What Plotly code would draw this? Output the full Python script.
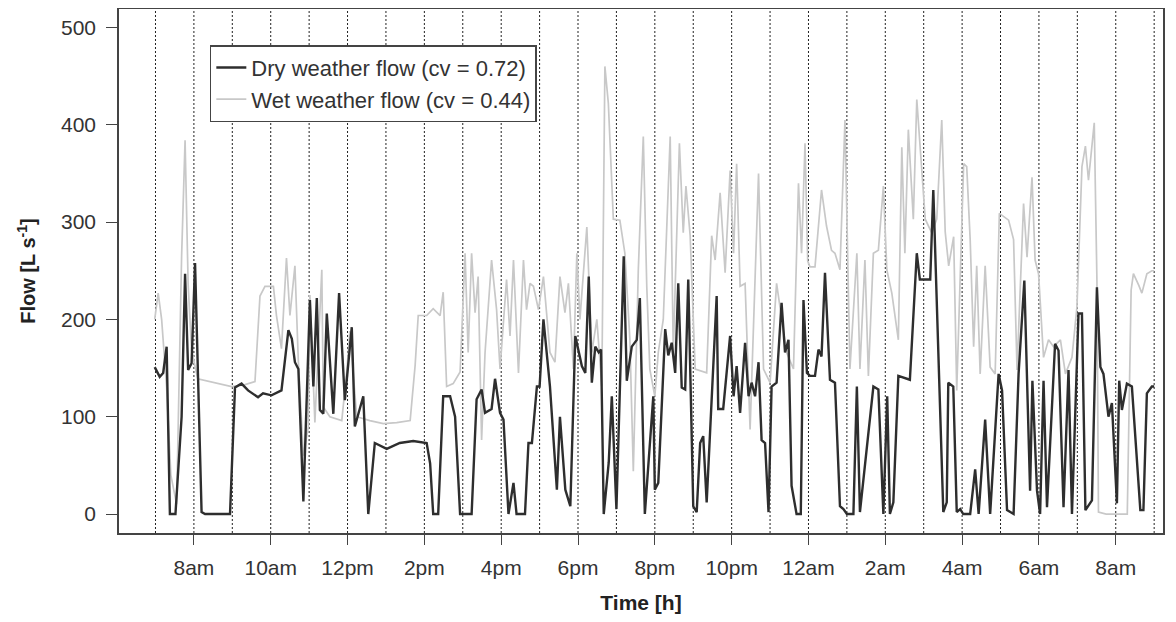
import plotly.graph_objects as go

# hours since midnight of day 1 (7 = 7am, 32 = 8am next day)
dry_time = [6.98, 7.11, 7.2, 7.29, 7.375, 7.52, 7.68, 7.77, 7.85, 7.94, 8.03, 8.2, 8.29, 8.94,
            9.07, 9.24, 9.41, 9.67, 9.8, 10.02, 10.28, 10.46, 10.55, 10.63, 10.72, 10.85,
            11.02, 11.11, 11.2, 11.28, 11.37, 11.46, 11.63, 11.78, 11.93, 12.11, 12.19, 12.41, 12.54, 12.71,
            13.02, 13.36, 13.71, 14.06, 14.15, 14.23, 14.36, 14.49, 14.67, 14.8, 14.93,
            15.23, 15.36, 15.49, 15.58, 15.75, 15.84, 15.97, 16.06, 16.19, 16.32, 16.4, 16.62, 16.71, 16.8, 16.93,
            17.0, 17.1, 17.27, 17.45, 17.53, 17.67, 17.8, 17.93, 18.1, 18.19, 18.28, 18.36, 18.45, 18.54, 18.6, 18.67, 18.8, 18.88,
            19.0, 19.19, 19.27, 19.4, 19.53, 19.61, 19.74, 19.96, 20.0, 20.09, 20.27, 20.35, 20.44, 20.53, 20.61, 20.7, 20.79, 20.87,
            21.0, 21.09, 21.18, 21.26, 21.35, 21.61, 21.65, 21.78, 21.96, 22.05, 22.13, 22.22, 22.35, 22.44, 22.52, 22.61, 22.7, 22.78, 22.87, 22.96,
            23.04, 23.17, 23.3, 23.39, 23.48, 23.56, 23.69, 23.8, 23.87, 23.96, 24.04, 24.17, 24.26, 24.34, 24.43, 24.56, 24.69, 24.82, 24.91,
            25.0, 25.17, 25.26, 25.34, 25.5, 25.69, 25.82, 25.95, 26.05, 26.12, 26.21, 26.34, 26.64, 26.82, 26.9,
            27.17, 27.25, 27.51, 27.6, 27.64, 27.77, 27.86, 27.95, 28.03, 28.21, 28.34, 28.43, 28.6, 28.73, 28.95,
            29.04, 29.17, 29.34, 29.47, 29.62, 29.77, 29.83, 29.95, 30.03, 30.12, 30.21, 30.42, 30.51, 30.64, 30.77, 30.86,
            31.03, 31.12, 31.21, 31.38, 31.51, 31.6, 31.68, 31.81, 31.9, 32.03, 32.09, 32.16, 32.29, 32.42, 32.64, 32.72, 32.81, 32.94, 33.0]
dry_flow = [151, 141, 145, 172, 0, 0, 100, 247, 148, 155, 258, 2, 0, 0,
            130, 134, 127, 120, 124, 122, 127, 189, 180, 156, 149, 13,
            220, 131, 222, 107, 103, 206, 103, 227, 117, 192, 90, 121, 0, 73,
            67, 73, 75, 73, 52, 0, 0, 121, 121, 100, 0,
            0, 118, 128, 104, 108, 139, 104, 97, 0, 32, 0, 0, 73, 73, 131,
            131, 200, 131, 25, 100, 25, 8, 183, 152, 145, 244, 135, 172, 166, 169, 0, 53, 121,
            5, 265, 137, 172, 179, 222, 0, 121, 25, 32, 190, 163, 176, 145, 237, 130, 128, 241,
            8, 2, 73, 80, 12, 224, 108, 108, 183, 121, 152, 104, 176, 121, 135, 121, 156, 76, 73, 2,
            131, 135, 217, 166, 179, 29, 0, 0, 220, 145, 142, 142, 169, 162, 248, 138, 135, 8, 5,
            0, 0, 131, 2, 60, 131, 128, 0, 121, 0, 12, 142, 138, 268, 241,
            241, 333, 2, 12, 135, 131, 2, 5, 0, 0, 46, 0, 97, 0, 144,
            127, 4, 0, 144, 240, 24, 137, 24, 0, 137, 7, 175, 168, 7, 148, 0,
            206, 206, 4, 14, 233, 151, 144, 100, 114, 11, 137, 107, 134, 131, 4, 4, 124, 131, 131]

wet_time = [6.98, 7.07, 7.16, 7.29, 7.4, 7.55, 7.68, 7.77, 7.85, 7.94, 8.1, 8.46, 8.81,
            8.98, 9.33, 9.59, 9.72, 9.85, 10.07, 10.15, 10.28, 10.41, 10.5, 10.63, 10.72, 10.85, 10.98,
            11.02, 11.15, 11.33, 11.37, 11.54, 11.85, 11.98, 12.06, 12.24, 12.58, 12.93,
            13.28, 13.63, 13.76, 13.84, 14.06, 14.23, 14.41, 14.49, 14.58, 14.75, 14.93,
            15.06, 15.14, 15.23, 15.32, 15.4, 15.49, 15.58, 15.75, 15.88, 15.97, 16.14, 16.23, 16.32, 16.45, 16.58, 16.66, 16.75, 16.84, 16.97,
            17.1, 17.27, 17.4, 17.53, 17.66, 17.75, 17.88, 17.97, 18.05, 18.23, 18.36, 18.49, 18.62, 18.7, 18.79, 18.92,
            19.09, 19.22, 19.35, 19.44, 19.57, 19.7, 19.79, 19.87, 20.0, 20.09, 20.22, 20.4, 20.48, 20.64, 20.74, 20.81, 20.92,
            21.05, 21.35, 21.48, 21.57, 21.7, 21.83, 21.96, 22.05, 22.13, 22.22, 22.35, 22.48, 22.7, 22.83,
            23.0, 23.17, 23.3, 23.43, 23.61, 23.74, 23.82, 23.91, 23.98, 24.04, 24.17, 24.34, 24.47, 24.6, 24.69, 24.82, 24.95,
            25.08, 25.26, 25.34, 25.47, 25.56, 25.69, 25.82, 25.95, 26.04, 26.17, 26.34, 26.43, 26.51, 26.6, 26.73, 26.82, 26.91,
            27.04, 27.21, 27.34, 27.47, 27.56, 27.65, 27.78, 27.86, 28.04, 28.12, 28.21, 28.3, 28.38, 28.47, 28.6, 28.73, 28.86, 28.97,
            29.21, 29.34, 29.43, 29.6, 29.69, 29.82, 29.9, 29.99, 30.12, 30.25, 30.38, 30.56, 30.69, 30.86, 30.99,
            31.12, 31.21, 31.29, 31.44, 31.51, 31.55, 31.75, 32.3, 32.4, 32.46, 32.6, 32.68, 32.81, 32.94, 33.0]
wet_flow = [200, 227, 200, 130, 40, 10, 265, 384, 236, 168, 139, 136, 133,
            131, 133, 136, 224, 234, 234, 204, 170, 263, 204, 255, 156, 60, 90,
            225, 94, 251, 110, 100, 96, 146, 188, 100, 96, 93,
            94, 96, 153, 204, 204, 211, 204, 228, 131, 134, 146,
            268, 166, 268, 207, 244, 76, 166, 261, 210, 149, 241, 183, 261, 145, 261, 210, 237, 234, 210,
            244, 166, 156, 244, 207, 237, 149, 268, 200, 295, 166, 200, 131, 460, 422, 303,
            302, 268, 180, 44, 251, 388, 234, 149, 121, 166, 200, 388, 166, 381, 289, 337, 286,
            149, 145, 286, 261, 330, 248, 353, 268, 360, 234, 237, 87, 350, 149,
            135, 237, 200, 166, 149, 340, 268, 381, 260, 254, 254, 333, 296, 271, 268, 251, 405,
            149, 268, 149, 261, 142, 268, 271, 337, 251, 227, 179, 377, 268, 395, 303, 426, 371,
            303, 289, 303, 405, 290, 255, 285, 127, 360, 357, 282, 172, 255, 144, 255, 151, 144, 309,
            302, 282, 148, 319, 264, 346, 261, 247, 161, 179, 172, 179, 144, 161, 213,
            357, 378, 343, 402, 240, 2, 0, 0, 230, 247, 235, 227, 247, 250, 250]

assert len(dry_time) == len(dry_flow), (len(dry_time), len(dry_flow))
assert len(wet_time) == len(wet_flow), (len(wet_time), len(wet_flow))

hour_lines = list(range(7, 34))
tick_vals = [8, 10, 12, 14, 16, 18, 20, 22, 24, 26, 28, 30, 32]
tick_text = ["8am", "10am", "12pm", "2pm", "4pm", "6pm", "8pm", "10pm", "12am", "2am", "4am", "6am", "8am"]

fig = go.Figure()

fig.add_trace(go.Scatter(x=wet_time, y=wet_flow, mode="lines", name="Wet weather flow (cv = 0.44)",
                         line=dict(color="#c8c8c8", width=1.7)))
fig.add_trace(go.Scatter(x=dry_time, y=dry_flow, mode="lines", name="Dry weather flow (cv = 0.72)",
                         line=dict(color="#2e2e2e", width=2.4)))

# dotted line every hour
for h in hour_lines:
    fig.add_shape(type="line", xref="x", yref="paper", x0=h, x1=h, y0=0, y1=1,
                  line=dict(color="#222", width=1, dash="2px,2px"), layer="below")

fig.update_xaxes(range=[6.05, 33.23], tickvals=tick_vals, ticktext=tick_text,
                 showgrid=False, zeroline=False, showline=True, mirror=True,
                 linecolor="#444", linewidth=1.5, ticks="outside", ticklen=10,
                 tickcolor="#444", tickwidth=1, ticklabelstandoff=5,
                 tickfont=dict(size=21, color="#333"), automargin=False,
                 title=dict(text="<b>Time [h]</b>", font=dict(size=21, color="#222"), standoff=26))
fig.update_yaxes(range=[-19.5, 519], tickvals=[0, 100, 200, 300, 400, 500],
                 showgrid=False, zeroline=False, showline=True, mirror=True,
                 linecolor="#444", linewidth=1.5, ticks="outside", ticklen=11,
                 tickcolor="#444", tickwidth=1, ticklabelstandoff=6,
                 tickfont=dict(size=21, color="#333"), automargin=False,
                 title=dict(text="<b>Flow [L s<sup>-1</sup>]</b>", font=dict(size=20, color="#222"), standoff=20))

# page body has an 8px margin, so the figure is a bit smaller than the window
fig.update_layout(width=1160, height=606,
                  margin=dict(l=111, r=5, t=1, b=81),
                  plot_bgcolor="white", paper_bgcolor="white",
                  font=dict(family="Liberation Sans, Arial, sans-serif"),
                  legend=dict(x=0.087, y=0.931, xanchor="left", yanchor="top",
                              traceorder="reversed", bgcolor="white",
                              bordercolor="#444", borderwidth=1.5,
                              font=dict(size=22, color="#333")),
                  showlegend=True)

fig.write_html("out.html")
